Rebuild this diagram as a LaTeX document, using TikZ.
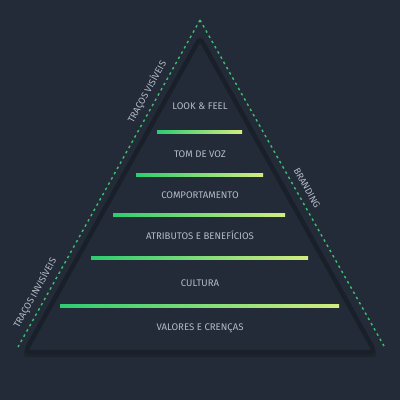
\documentclass[tikz,border=0pt]{standalone}
\usepackage{fontspec}
\setmainfont{Fira Sans}
\definecolor{bg}{HTML}{232B38}
\definecolor{edge}{HTML}{1A2029}
\definecolor{shadow}{HTML}{1E242E}
\definecolor{dash}{HTML}{3DBE6E}
\definecolor{txt}{HTML}{B4BBC6}
\definecolor{gA}{HTML}{2ECC71}
\definecolor{gB}{HTML}{D2EC80}
\tikzset{
  lvl/.style={text=txt,font=\fontsize{9.6}{11}\selectfont,inner sep=0pt},
  side/.style={text=txt,font=\fontsize{9.4}{11}\selectfont,inner sep=0pt},
  guide/.style={draw=dash,line width=1.4pt,dash pattern=on 2.5pt off 3.5pt},
  bar/.style={left color=gA,right color=gB}
}
\begin{document}
\begin{tikzpicture}[x=1pt,y=-1pt]
\useasboundingbox (0,0) rectangle (400,400);
\fill[bg] (0,0) rectangle (400,400);
% shadow and triangle
\fill[shadow,rounded corners=7pt] (200,34) -- (379,357) -- (21,357) -- cycle;
\draw[edge,line width=4.5pt,fill=bg,rounded corners=6pt] (200,38) -- (375,352) -- (25,352) -- cycle;
% guides
\coordinate (apex) at (200,20);
\coordinate (gl) at (18,347);
\coordinate (gr) at (384,346);
\draw[guide] (apex) -- (gl);
\draw[guide] (apex) -- (gr);
% bars
\shade[bar] (157,130.5) rectangle (242,133);
\shade[bar] (136,173.7) rectangle (263,176.2);
\shade[bar] (113,213.7) rectangle (285,216.2);
\shade[bar] (91,256.7) rectangle (308,259.2);
\shade[bar] (60,304.7) rectangle (339,307.2);
% labels
\node[lvl] (l1) at (200,106) {LOOK \& FEEL};
\node[lvl] (l2) at (200,154) {TOM DE VOZ};
\node[lvl] (l3) at (200,195) {COMPORTAMENTO};
\node[lvl] (l4) at (200,235) {ATRIBUTOS E BENEFÍCIOS};
\node[lvl] (l5) at (200,283) {CULTURA};
\node[lvl] (l6) at (200,328) {VALORES E CRENÇAS};
\node[side,rotate=61] (s1) at (147,92) {TRAÇOS VISÍVEIS};
\node[side,rotate=61] (s2) at (35,293) {TRAÇOS INVISÍVEIS};
\node[side,rotate=-61] (s3) at (307,188) {BRANDING};
\end{tikzpicture}
\end{document}
